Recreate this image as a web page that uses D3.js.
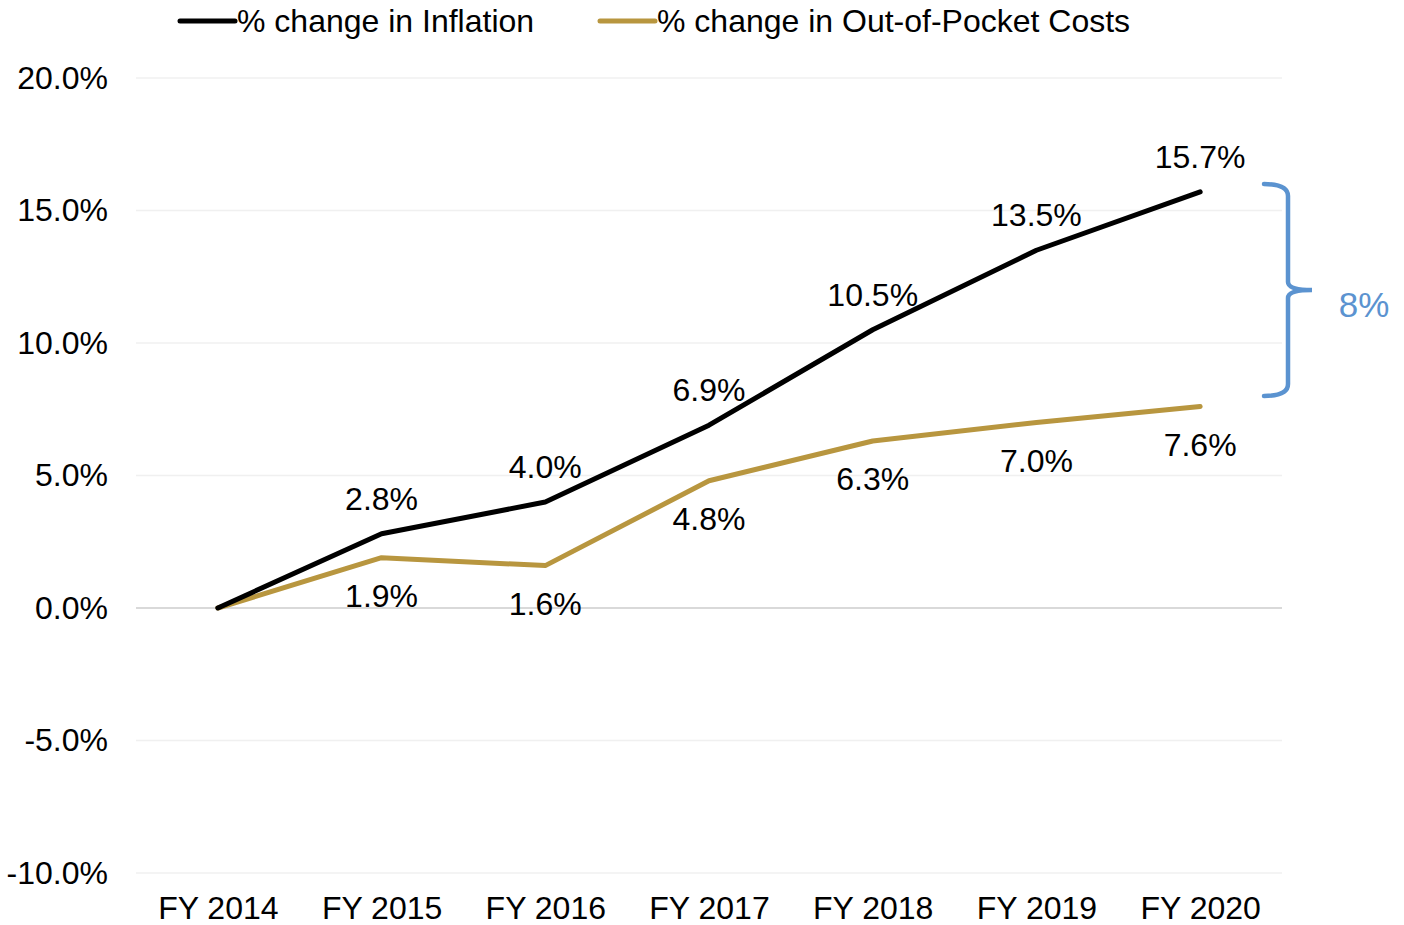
<!DOCTYPE html>
<html>
<head>
<meta charset="utf-8">
<script src="https://cdn.jsdelivr.net/npm/d3@7"></script>
<style>
  body { margin: 0; background: #fff; }
  svg text { font-family: "Liberation Sans", Arial, sans-serif; }
</style>
</head>
<body>
<svg id="chart"></svg>
<script>
const years = ["FY 2014", "FY 2015", "FY 2016", "FY 2017", "FY 2018", "FY 2019", "FY 2020"];
const inflation = [0, 2.8, 4.0, 6.9, 10.5, 13.5, 15.7];
const outOfPocket = [0, 1.9, 1.6, 4.8, 6.3, 7.0, 7.6];
const yTicks = [-10, -5, 0, 5, 10, 15, 20];
const gapLabel = "8%";

const width = 1404, height = 925;
const margins = { top: 78, right: 122, bottom: 52, left: 136 };
const fontSize = 32;

const svg = d3.select("svg#chart").attr("width", width).attr("height", height);

const xScale = d3.scalePoint()
  .domain(years)
  .range([margins.left, width - margins.right])
  .padding(0.5);

const yScale = d3.scaleLinear()
  .domain([-10, 20])
  .range([height - margins.bottom, margins.top]);

// gridlines
svg.append("g")
  .selectAll("line")
  .data(yTicks)
  .join("line")
  .attr("x1", margins.left)
  .attr("x2", width - margins.right)
  .attr("y1", d => yScale(d))
  .attr("y2", d => yScale(d))
  .attr("stroke", d => d === 0 ? "#d9d9d9" : "#f0f0f0")
  .attr("stroke-width", d => d === 0 ? 2 : 1.5);

// y axis labels
const yAxis = svg.append("g")
  .attr("transform", `translate(${margins.left - 28},0)`)
  .call(d3.axisLeft(yScale).tickValues(yTicks).tickSize(0).tickPadding(0)
    .tickFormat(d => d.toFixed(1) + "%"));
yAxis.select(".domain").remove();
yAxis.selectAll("text")
  .attr("font-size", fontSize)
  .attr("fill", "#000")
  .style("font-family", '"Liberation Sans", Arial, sans-serif');

// x axis labels
const xAxis = svg.append("g")
  .attr("transform", `translate(0,${height - margins.bottom + 23})`)
  .call(d3.axisBottom(xScale).tickSize(0).tickPadding(0));
xAxis.select(".domain").remove();
xAxis.selectAll("text")
  .attr("font-size", fontSize)
  .attr("fill", "#000")
  .style("font-family", '"Liberation Sans", Arial, sans-serif');

const series = [
  { name: "% change in Inflation", values: inflation, color: "#000000", labelDy: -35 },
  { name: "% change in Out-of-Pocket Costs", values: outOfPocket, color: "#b8963f", labelDy: 38 }
];

const line = d3.line()
  .x((d, i) => xScale(years[i]))
  .y(d => yScale(d));

// draw gold first so black shows on top where they start together
[series[1], series[0]].forEach(s => {
  svg.append("path")
    .datum(s.values)
    .attr("d", line)
    .attr("fill", "none")
    .attr("stroke", s.color)
    .attr("stroke-width", 5)
    .attr("stroke-linejoin", "round")
    .attr("stroke-linecap", "round");
});

// data labels (first point has none)
series.forEach(s => {
  svg.append("g")
    .selectAll("text")
    .data(s.values.slice(1))
    .join("text")
    .attr("x", (d, i) => xScale(years[i + 1]))
    .attr("y", d => yScale(d) + s.labelDy)
    .attr("text-anchor", "middle")
    .attr("dominant-baseline", "central")
    .attr("font-size", fontSize)
    .attr("fill", "#000")
    .text(d => d.toFixed(1) + "%");
});

// legend
const legendItems = [
  { x: 180, s: series[0] },
  { x: 600, s: series[1] }
];
const legend = svg.append("g");
legendItems.forEach(item => {
  legend.append("line")
    .attr("x1", item.x).attr("x2", item.x + 55)
    .attr("y1", 21).attr("y2", 21)
    .attr("stroke", item.s.color)
    .attr("stroke-width", 5)
    .attr("stroke-linecap", "round");
  legend.append("text")
    .attr("x", item.x + 57)
    .attr("y", 21)
    .attr("dominant-baseline", "central")
    .attr("font-size", fontSize)
    .attr("fill", "#000")
    .text(item.s.name);
});

// bracket showing the gap
const bx = 1288, bTop = yScale(16), bBottom = yScale(8), bMid = (bTop + bBottom) / 2;
const blue = "#5b93d0";
svg.append("path")
  .attr("d", `M${bx - 24},${bTop} Q${bx},${bTop} ${bx},${bTop + 12}
    L${bx},${bMid - 8} Q${bx},${bMid} ${bx + 24},${bMid}
    Q${bx},${bMid} ${bx},${bMid + 8}
    L${bx},${bBottom - 12} Q${bx},${bBottom} ${bx - 24},${bBottom}`)
  .attr("fill", "none")
  .attr("stroke", blue)
  .attr("stroke-width", 4.5)
  .attr("stroke-linecap", "round");

svg.append("text")
  .attr("x", 1364)
  .attr("y", bMid + 14)
  .attr("text-anchor", "middle")
  .attr("dominant-baseline", "central")
  .attr("font-size", 35)
  .attr("fill", blue)
  .text(gapLabel);
</script>
</body>
</html>
